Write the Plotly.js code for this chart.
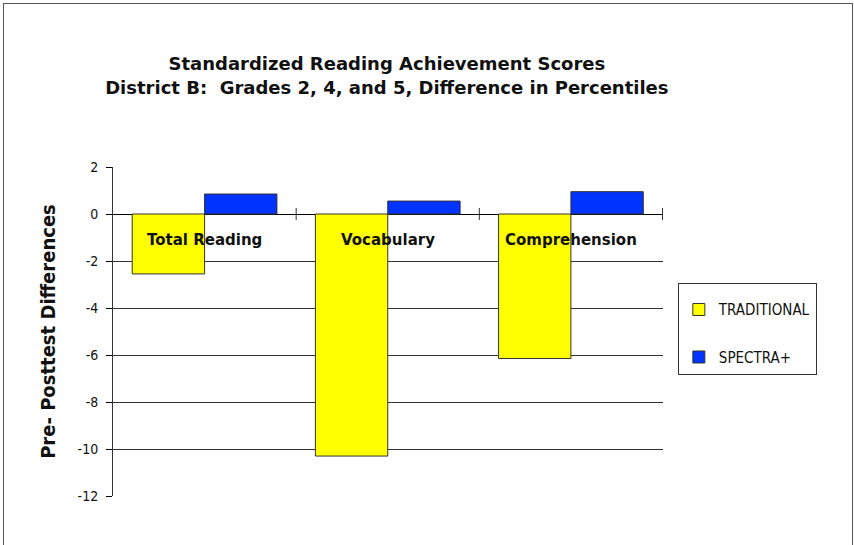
<!DOCTYPE html>
<html><head><meta charset="utf-8">
<script src="https://cdn.plot.ly/plotly-3.0.1.min.js"></script>
<style>
html,body{margin:0;padding:0;background:#fff;overflow:hidden}
#frame{position:absolute;left:3px;top:3px;width:850px;height:560px;border:1px solid #555;box-sizing:border-box}
#chart{position:absolute;left:0;top:0;width:854px;height:545px}
</style></head>
<body>
<div id="frame"></div>
<div id="chart"></div>
<script>
const categories = ["Total Reading", "Vocabulary", "Comprehension"];
const traditional = [-2.55, -10.3, -6.15];
const spectra = [0.85, 0.55, 0.95];
const seriesNames = ["TRADITIONAL", "SPECTRA+"];
const yTickVals = [2, 0, -2, -4, -6, -8, -10, -12];
const yTickText = ["2", "0", "-2", "-4", "-6", "-8", "-10", "-12"];

const COND = 'DejaVu Sans Condensed, Liberation Sans Narrow, sans-serif';

const traces = [
  {type:'bar', name:seriesNames[0], x:categories, y:traditional, legendgroup:'a',
   marker:{color:'#ffff00', line:{color:'#333', width:1}}},
  {type:'bar', name:seriesNames[1], x:categories, y:spectra, legendgroup:'b',
   marker:{color:'#0033ff', line:{color:'#333', width:1}}}
];

const annotations = categories.map(c => ({
  x:c, y:0, xref:'x', yref:'y', yanchor:'top', yshift:-15, showarrow:false,
  text:'<b>' + c + '</b>', font:{family:'DejaVu Sans, sans-serif', size:15, color:'#111'}
}));

const shapes = categories.map((c,i) => ({
  type:'line', xref:'x', yref:'y', x0:i+0.5, x1:i+0.5,
  ysizemode:'pixel', yanchor:0, y0:-6, y1:6, line:{color:'#333', width:1}
}));

const layout = {
  width:854, height:545,
  margin:{l:113, r:191, t:167, b:49},
  paper_bgcolor:'rgba(0,0,0,0)', plot_bgcolor:'rgba(0,0,0,0)',
  title:{text:'<b>Standardized Reading Achievement Scores<br>District B:  Grades 2, 4, and 5, Difference in Percentiles</b>',
    x:0.453, xanchor:'center', y:0.871, yanchor:'middle',
    font:{family:'DejaVu Sans, sans-serif', size:18, color:'#111'}},
  barmode:'group', bargap:0.21, bargroupgap:0,
  xaxis:{showticklabels:false, showgrid:false, zeroline:false, showline:false, ticks:'', fixedrange:true},
  yaxis:{range:[-12,2], tickvals:yTickVals, ticktext:yTickText, showgrid:true, gridcolor:'#333', gridwidth:1,
    zeroline:true, zerolinecolor:'#000', zerolinewidth:1,
    showline:true, linecolor:'#333', linewidth:1, ticks:'outside', ticklen:6, tickwidth:1, tickcolor:'#000',
    ticklabelstandoff:5,
    tickfont:{family:COND, size:14, color:'#111'},
    title:{text:'<b>Pre- Posttest Differences</b>', standoff:16,
      font:{family:COND, size:20, color:'#111'}}},
  legend:{x:1.027, xanchor:'left', y:0.647, yanchor:'top', bordercolor:'#333', borderwidth:1,
    bgcolor:'#fff', tracegroupgap:25, valign:'middle',
    title:{text:' ', font:{size:7}},
    font:{family:COND, size:15, color:'#111'}},
  annotations:annotations,
  shapes:shapes,
  showlegend:true
};
Plotly.newPlot('chart', traces, layout, {displayModeBar:false, staticPlot:true});
</script>
</body></html>
